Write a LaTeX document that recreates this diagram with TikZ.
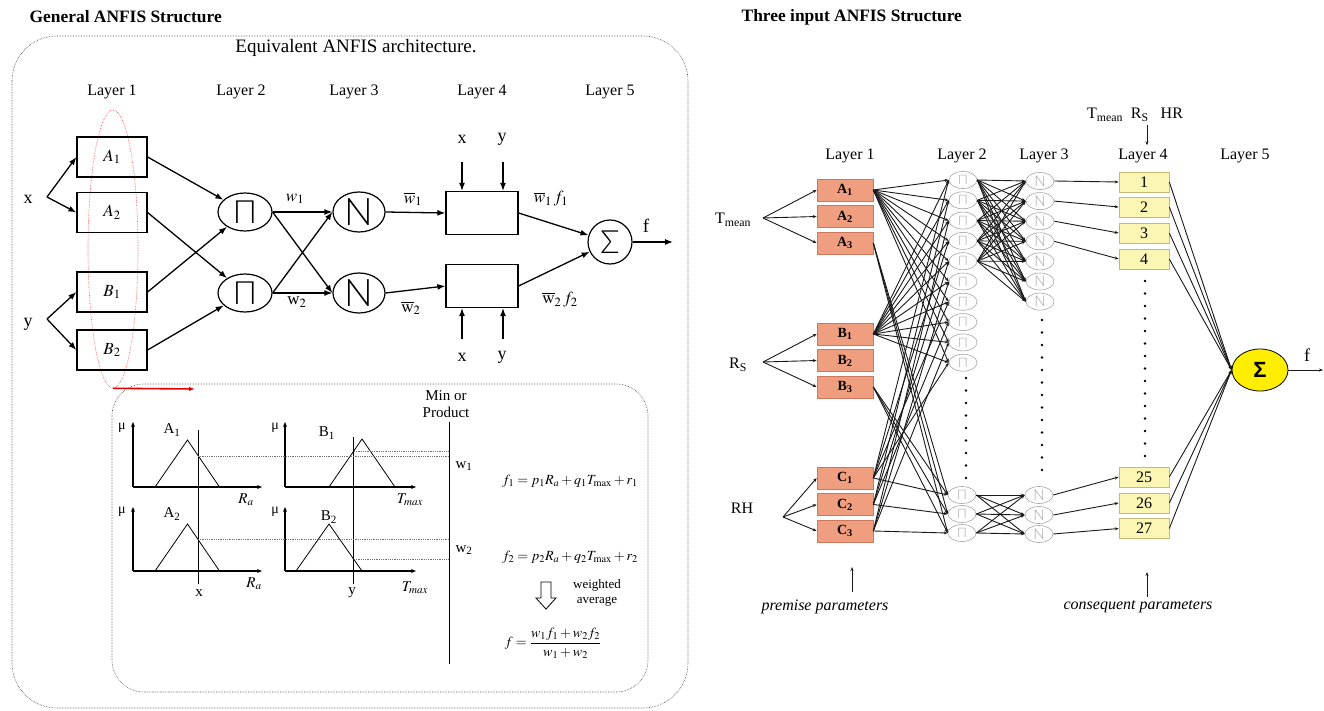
\documentclass[tikz,border=0pt]{standalone}
\usepackage{mathptmx}
\usepackage{fontspec}
\setmainfont{Liberation Serif}
\newfontfamily\symfont{Liberation Sans}
\newfontfamily\thinfont{Lato Light}
\usetikzlibrary{arrows.meta,shapes.geometric}

\definecolor{premfill}{RGB}{240,158,128}
\definecolor{premdraw}{RGB}{205,118,92}
\definecolor{consfill}{RGB}{252,246,180}
\definecolor{consdraw}{RGB}{196,186,120}
\definecolor{sumfill}{RGB}{255,238,0}
\definecolor{nodegray}{RGB}{165,165,165}

\tikzset{every picture/.style={line width=0.75pt}}
\tikzset{
  fs/.style={font=\fontsize{#1}{#1}\selectfont},
  ttl/.style={font=\fontsize{17.4}{17.4}\selectfont\bfseries},
  lay/.style={font=\fontsize{16}{16}\selectfont},
  dotbox/.style={draw=black!75, densely dotted, line width=0.6pt},
  arr/.style={line width=1.3pt, -{Latex[length=8pt,width=6pt]}},
  sarr/.style={line width=0.9pt, draw=black!90, -{Stealth[length=4pt,width=3pt]}},
  mfbox/.style={draw, line width=1.2pt, minimum width=70pt, minimum height=40pt, inner sep=0pt, font=\fontsize{17}{17}\selectfont},
  pnode/.style={draw, ellipse, line width=1.2pt, minimum width=54pt, minimum height=38pt, inner sep=0pt, font=\thinfont\fontsize{32}{32}\selectfont},
  nnode/.style={draw, ellipse, line width=1.2pt, minimum width=52pt, minimum height=40pt, inner sep=0pt, font=\thinfont\fontsize{38}{38}\selectfont},
  cbox/.style={draw, line width=1.2pt, minimum width=72pt, minimum height=43pt, inner sep=0pt},
  snode/.style={draw, circle, line width=1.2pt, minimum size=44pt, inner sep=0pt, font=\thinfont\fontsize{32}{32}\selectfont},
  ax/.style={line width=1.3pt, -{Stealth[length=5pt,width=4pt]}},
  mf/.style={line width=0.8pt},
  guide/.style={line width=0.9pt},
  proj/.style={draw=black!55, densely dotted, line width=0.8pt},
  pbox/.style={fill=premfill, draw=premdraw, line width=0.6pt, minimum width=56pt, minimum height=22pt, inner sep=0pt, font=\fontsize{14}{14}\selectfont\bfseries},
  qbox/.style={fill=consfill, draw=consdraw, line width=0.6pt, minimum width=50pt, minimum height=20pt, inner sep=0pt, font=\fontsize{16}{16}\selectfont},
  rpi/.style={draw=nodegray, ellipse, line width=0.6pt, minimum width=28pt, minimum height=17pt, inner sep=0pt, text=nodegray, font=\thinfont\fontsize{13}{13}\selectfont},
  rn/.style={draw=nodegray, ellipse, line width=0.6pt, minimum width=28pt, minimum height=17pt, inner sep=0pt, text=nodegray, font=\thinfont\fontsize{15}{15}\selectfont},
  sig/.style={draw, ellipse, fill=sumfill, line width=0.8pt, minimum width=56pt, minimum height=42pt, inner sep=0pt, font=\symfont\bfseries\fontsize{22}{22}\selectfont}
}

\begin{document}
\begin{tikzpicture}[x=1pt,y=1pt,yscale=-1,xscale=1]
\useasboundingbox (0,0) rectangle (1324,711);

% ---------------- left: general structure ----------------
\node[ttl, anchor=west] (ttlL) at (26,17) {General ANFIS Structure};
\draw[dotbox, rounded corners=45pt] (12,36) rectangle (688,708);
\node[fs=19] (eqv) at (356,48) {Equivalent ANFIS architecture.};
\foreach \x/\n in {112/1,241/2,354/3,482/4,610/5}
  \node[lay] (lay\n) at (\x,92) {Layer \n};

% selection of layer 1
\node[draw=red!75, densely dotted, ellipse, line width=0.6pt, minimum width=50pt, minimum height=278pt, inner sep=0pt] (sel) at (113,249) {};
\coordinate (redto) at (195,389);
\draw[red!90!black, line width=1.6pt, -{Latex[length=6pt,width=4.5pt]}] (sel.south) -- (redto);

% Layer 1
\node[mfbox] (A1) at (112,157) {$A_1$};
\node[mfbox] (A2) at (112,212.5) {$A_2$};
\node[mfbox] (B1) at (112,292) {$B_1$};
\node[mfbox] (B2) at (112,350) {$B_2$};
\node[fs=18] (inx) at (28,199) {x};
\node[fs=18] (iny) at (28,324) {y};
\coordinate (bx) at (47,197);
\coordinate (by) at (47,319);
\draw[arr] (bx) -- (A1.west);
\draw[arr] (bx) -- (A2.west);
\draw[arr] (by) -- (B1.west);
\draw[arr] (by) -- (B2.west);

% Layers 2 - 5
\node[pnode] (P1) at (245,212) {Π};
\node[pnode] (P2) at (245,293) {Π};
\node[nnode] (N1) at (359,212) {N};
\node[nnode] (N2) at (359,293) {N};
\node[cbox] (Q1) at (482,213) {};
\node[cbox] (Q2) at (482,286) {};
\node[snode] (S) at (610,242) {Σ};
\coordinate (fout) at (673,242);

\draw[arr] (A1.east) -- (P1);
\draw[arr] (B1.east) -- (P1);
\draw[arr] (A2.east) -- (P2);
\draw[arr] (B2.east) -- (P2);
\draw[arr] (P1.east) -- (N1.west);
\draw[arr] (P1.east) -- (N2.west);
\draw[arr] (P2.east) -- (N1.west);
\draw[arr] (P2.east) -- (N2.west);
\draw[arr] (N1.east) -- (Q1.west);
\draw[arr] (N2.east) -- (Q2.west);
\draw[arr] (Q1.east) -- (S);
\draw[arr] (Q2.east) -- (S);
\draw[arr] (S.east) -- (fout);

% Text Node
\node[fs=17] (lw1) at (295,199) {$w_1$};
\node[fs=17] (lw2) at (297,302) {w$_2$};
\node[fs=17] (lwb1) at (413,199) {$\overline{w}_1$};
\node[fs=17] (lwb2) at (411,308) {$\overline{\mathrm{w}}_2$};
\node[fs=17] (lwf1) at (551,199) {$\overline{w}_1\, f_1$};
\node[fs=17] (lwf2) at (560,300) {$\overline{\mathrm{w}}_2\, f_2$};
\node[fs=19] (lf) at (646,226) {f};

% x, y into layer 4
\node[fs=18] (qx1) at (462,139) {x};
\node[fs=18] (qy1) at (502,139) {y};
\node[fs=18] (qx2) at (462,357) {x};
\node[fs=18] (qy2) at (502,357) {y};
\coordinate (qxt) at (462,162);
\coordinate (qyt) at (503,162);
\coordinate (qxb) at (462,339);
\coordinate (qyb) at (503,339);
\draw[arr] (qxt) -- (qxt |- Q1.north);
\draw[arr] (qyt) -- (qyt |- Q1.north);
\draw[arr] (qxb) -- (qxb |- Q2.south);
\draw[arr] (qyb) -- (qyb |- Q2.south);

% ---------------- inset: fuzzy reasoning ----------------
\draw[dotbox, rounded corners=32pt] (112,384) rectangle (648,692);

% A1
\draw[ax] (133,487) -- (262,487);
\draw[ax] (133,487) -- (133,422);
\draw[mf] (155,487) -- (187.5,440) -- (219.5,487);
\node[fs=14] (muA1) at (122,428) {μ};
\node[fs=15] (lA1) at (172,430) {A\textsubscript{1}};
\node[fs=15] (raA1) at (246,500) {$R_a$};
% A2
\draw[ax] (133,571) -- (262,571);
\draw[ax] (133,571) -- (133,507);
\draw[mf] (155,571) -- (187.5,524) -- (219.5,571);
\node[fs=14] (muA2) at (122,512) {μ};
\node[fs=15] (lA2) at (172,514) {A\textsubscript{2}};
\node[fs=15] (raA2) at (254,584) {$R_a$};
% B1
\draw[ax] (285,487) -- (416,487);
\draw[ax] (285,487) -- (285,422);
\draw[mf] (329,487) -- (362,439) -- (395,487);
\node[fs=14] (muB1) at (275,428) {μ};
\node[fs=15] (lB1) at (327,433) {B\textsubscript{1}};
\node[fs=15] (tmB1) at (410,500) {$T_{max}$};
% B2
\draw[ax] (285,571) -- (416,571);
\draw[ax] (285,571) -- (285,507);
\draw[mf] (296,571) -- (329,524) -- (362,571);
\node[fs=14] (muB2) at (275,512) {μ};
\node[fs=15] (lB2) at (329,517) {B\textsubscript{2}};
\node[fs=15] (tmB2) at (415,588) {$T_{max}$};

% inputs and firing strengths
\draw[guide] (198,430) -- (198,584);
\draw[guide] (353.5,437) -- (353.5,584);
\draw[guide] (449,422) -- (449,664);
\node[fs=15] (ix) at (199,593) {x};
\node[fs=15] (iy) at (352,593) {y};
\node[font=\fontsize{15}{17}\selectfont, align=center] (minp) at (446,404) {Min or\\Product};
\draw[proj] (198,456) -- (449,456);
\draw[proj] (354,451) -- (449,451);
\draw[proj] (198,539) -- (449,539);
\draw[proj] (354,559) -- (449,559);
\node[fs=15] (mw1) at (464,466) {w\textsubscript{1}};
\node[fs=15] (mw2) at (464,550) {w\textsubscript{2}};

% rule outputs
\node[fs=14] (fo1) at (570,481) {$f_1 = p_1R_a + q_1T_{\max} + r_1$};
\node[fs=14] (fo2) at (570,557) {$f_2 = p_2R_a + q_2T_{\max} + r_2$};
\draw[line width=0.8pt] (541,582) -- (551,582) -- (551,598) -- (556,598) -- (546,609) -- (536,598) -- (541,598) -- cycle;
\node[font=\fontsize{13}{15}\selectfont, align=center] (wavg) at (597,593) {weighted\\average};
\node[fs=14] (favg) at (553,643) {$f=\displaystyle\frac{w_1f_1+w_2f_2}{w_1+w_2}$};

% ---------------- right: three input structure ----------------
\node[ttl, anchor=west] (ttlR) at (738,17) {Three input ANFIS Structure};
\foreach \x/\n in {850/1,962/2,1044/3,1143/4,1245/5}
  \node[lay] (rlay\n) at (\x,156) {Layer \n};
\node[fs=16] (cin) at (1135,115) {T\textsubscript{mean}\ \ R\textsubscript{S}\ \ \ HR};
\coordinate (cpar) at (1147,125);
\draw[sarr] (cpar) -- (cpar |- rlay4.north);

% Layer 1
\foreach \l/\i/\y in {A/1/190,A/2/216.5,A/3/243,B/1/334,B/2/360.5,B/3/387,C/1/478,C/2/504.5,C/3/531}
  \node[pbox] (p\l\i) at (845,\y) {\l\textsubscript{\i}};
\node[fs=16] (tin) at (733,220) {T\textsubscript{mean}};
\node[fs=16] (rin) at (738,365) {R\textsubscript{S}};
\node[fs=16] (hin) at (742,508) {RH};
\coordinate (tbr) at (763,218);
\coordinate (rbr) at (763,362);
\coordinate (hbr) at (783,517);
\foreach \i in {1,2,3} {
  \draw[sarr] (tbr) -- (pA\i.west);
  \draw[sarr] (rbr) -- (pB\i.west);
  \draw[sarr] (hbr) -- (pC\i.west);
}

% Layer 2
\foreach \i in {1,...,10}
  \node[rpi] (r\i) at (963,{180+20.3*(\i-1)}) {Π};
\foreach \i/\y in {1/495,2/514,3/533}
  \node[rpi] (rb\i) at (962,\y) {Π};
\foreach \y in {378,390.5,...,478}
  \fill (966,\y) circle (1.4);

% Layer 3
\foreach \j in {1,...,7}
  \node[rn] (n\j) at (1040,{181+20.1*(\j-1)}) {N};
\foreach \j/\y in {1/495,2/515,3/534}
  \node[rn] (nb\j) at (1039,\y) {N};
\foreach \y in {320,332.5,...,470}
  \fill (1042,\y) circle (1.4);

% Layer 4
\foreach \k/\y in {1/182,2/207,3/233,4/259,25/477,26/503,27/528.5}
  \node[qbox] (c\k) at (1144,\y) {\k};
\foreach \y in {281,293.5,...,456}
  \fill (1145,\y) circle (1.4);

% Layer 5
\node[sig] (sum) at (1260,370) {Σ};
\node[fs=18] (rf) at (1307,355) {f};
\coordinate (fend) at (1323,370);
\draw[sarr] (sum.east) -- (fend);

% links layer 1 -> 2
\foreach \i in {1,...,10} {
  \draw[sarr] (pA1.east) -- (r\i.west);
  \draw[sarr] (pB1.east) -- (r\i.west);
}
\foreach \i in {1,2,3} {
  \draw[sarr] (pA3.east) -- (rb\i.west);
  \draw[sarr] (pB3.east) -- (rb\i.west);
  \draw[sarr] (pC\i.east) -- (rb\i.west);
}
\foreach \i in {1,4,7,10} \draw[sarr] (pC1.east) -- (r\i.west);
\foreach \i in {2,5,8} \draw[sarr] (pC2.east) -- (r\i.west);
\foreach \i in {3,6,9} \draw[sarr] (pC3.east) -- (r\i.west);

% links layer 2 -> 3
\foreach \i in {1,...,5}
  \foreach \j in {1,...,7}
    \draw[sarr] (r\i.east) -- (n\j.west);
\foreach \i in {1,2,3}
  \foreach \j in {1,2,3}
    \draw[sarr] (rb\i.east) -- (nb\j.west);

% links layer 3 -> 4 -> 5
\foreach \j in {1,...,4} \draw[sarr] (n\j.east) -- (c\j.west);
\foreach \j/\k in {1/25,2/26,3/27} \draw[sarr] (nb\j.east) -- (c\k.west);
\foreach \k in {1,2,3,4,25,26,27} \draw[sarr] (c\k.east) -- (sum.west);

% parameter notes
\node[fs=16] (prem) at (825,607) {\textit{premise parameters}};
\node[fs=16] (cons) at (1138,607) {\textit{consequent parameters}};
\coordinate (pmb) at (852,592);
\coordinate (pmt) at (852,567);
\coordinate (csb) at (1147,597);
\coordinate (cst) at (1147,572);
\draw[sarr] (pmb) -- (pmt);
\draw[sarr] (csb) -- (cst);

\end{tikzpicture}
\end{document}
